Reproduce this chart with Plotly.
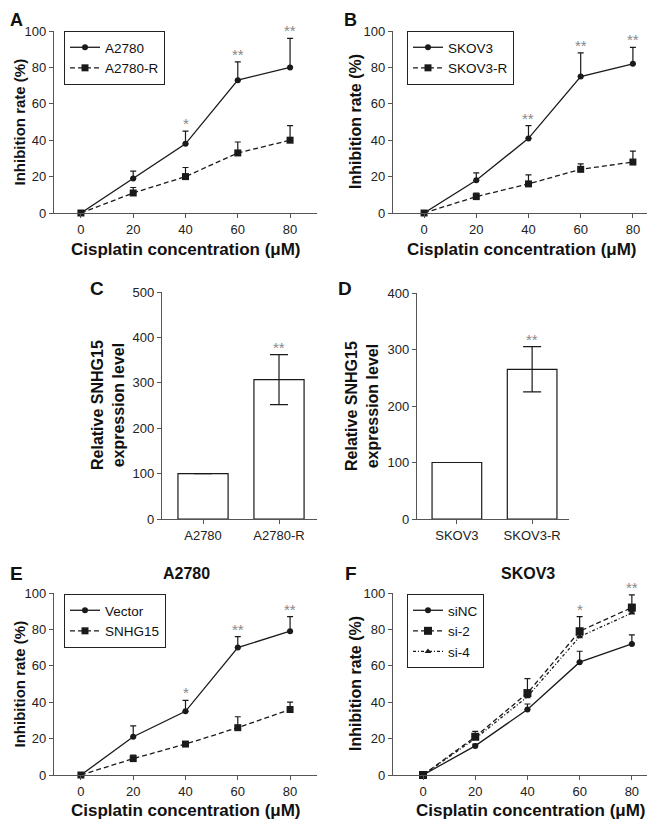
import plotly.graph_objects as go

# cisplatin doses (uM)
conc = [0, 20, 40, 60, 80]

# panel A
a2780 = [0, 19, 38, 73, 80]
a2780_err = [0, 4, 7, 10, 16]
a2780r = [0, 11, 20, 33, 40]
a2780r_err = [0, 3, 5, 6, 8]
a_stars = ["", "", "*", "**", "**"]

# panel B
skov3 = [0, 18, 41, 75, 82]
skov3_err = [0, 4, 7, 13, 9]
skov3r = [0, 9, 16, 24, 28]
skov3r_err = [0, 2, 5, 3, 6]
b_stars = ["", "", "**", "**", "**"]

# panels C / D
c_cells = ["A2780", "A2780-R"]
c_expr = [100, 307]
c_err = [0, 55]
c_stars = ["", "**"]
d_cells = ["SKOV3", "SKOV3-R"]
d_expr = [100, 265]
d_err = [0, 40]
d_stars = ["", "**"]

# panel E
vector = [0, 21, 35, 70, 79]
vector_err = [0, 6, 6, 6, 8]
snhg15 = [0, 9, 17, 26, 36]
snhg15_err = [0, 2, 1, 6, 4]
e_stars = ["", "", "*", "**", "**"]

# panel F
sinc = [0, 16, 36, 62, 72]
sinc_err = [0, 1, 3, 6, 5]
si2 = [0, 21, 45, 79, 92]
si2_err = [0, 3, 8, 8, 7]
si4 = [0, 20, 43, 76, 89]
si4_err = [0, 1, 1, 1, 1]
f_stars = ["", "", "", "*", "**"]

W, H = 660, 820
OFF = 8  # page body margin offsets the figure on screen
FONT = "Liberation Sans, Arial, sans-serif"
AXCOL = "#555555"


def px(x):
    return (x - OFF) / W


def py(y):
    return 1 - (y - OFF) / H


def line_trace(y, err, name, symbol, dash, size, xa, ya, legend):
    return go.Scatter(
        x=conc, y=y, name=name, mode="lines+markers",
        line=dict(color="#1a1a1a", width=1.3, dash=dash),
        marker=dict(symbol=symbol, size=size, color="#1a1a1a"),
        error_y=dict(type="data", symmetric=False, array=err,
                     arrayminus=[0] * len(err), color="#1a1a1a",
                     thickness=1.2, width=3),
        xaxis=xa, yaxis=ya, legend=legend, cliponaxis=False,
    )


def axis(xdom, ydom, rng, dtick, anchor, categorical=False):
    d = dict(
        domain=[px(xdom[0]), px(xdom[1])] if xdom else [py(ydom[1]), py(ydom[0])],
        range=rng, showline=True, linecolor=AXCOL, linewidth=1.3,
        ticks="outside", ticklen=4, tickcolor=AXCOL, tickwidth=1.2,
        showgrid=False, zeroline=False, anchor=anchor, automargin=False,
        tickfont=dict(size=13, color="#222222", family=FONT),
        fixedrange=True,
    )
    if categorical:
        d["type"] = "category"
    else:
        d["tick0"] = 0
        d["dtick"] = dtick
    return d


fig = go.Figure()

# A
fig.add_trace(line_trace(a2780, a2780_err, "A2780", "circle", "solid", 6, "x", "y", "legend"))
fig.add_trace(line_trace(a2780r, a2780r_err, "A2780-R", "square", "5px,3px", 7, "x", "y", "legend"))
# B
fig.add_trace(line_trace(skov3, skov3_err, "SKOV3", "circle", "solid", 6, "x2", "y2", "legend2"))
fig.add_trace(line_trace(skov3r, skov3r_err, "SKOV3-R", "square", "5px,3px", 7, "x2", "y2", "legend2"))
# E
fig.add_trace(line_trace(vector, vector_err, "Vector", "circle", "solid", 6, "x5", "y5", "legend3"))
fig.add_trace(line_trace(snhg15, snhg15_err, "SNHG15", "square", "5px,3px", 7, "x5", "y5", "legend3"))
# F
fig.add_trace(line_trace(sinc, sinc_err, "siNC", "circle", "solid", 6, "x6", "y6", "legend4"))
fig.add_trace(line_trace(si2, si2_err, "si-2", "square", "5px,3px", 8, "x6", "y6", "legend4"))
fig.add_trace(line_trace(si4, si4_err, "si-4", "triangle-up", "3px,2px,1px,2px", 6, "x6", "y6", "legend4"))

# C / D bars
for cells, vals, errs, xa, ya in [(c_cells, c_expr, c_err, "x3", "y3"),
                                  (d_cells, d_expr, d_err, "x4", "y4")]:
    fig.add_trace(go.Bar(
        x=cells, y=vals, width=0.66, showlegend=False,
        marker=dict(color="white", line=dict(color="#1a1a1a", width=1.2)),
        error_y=dict(type="data", array=[e if e else None for e in errs],
                     color="#1a1a1a", thickness=1.2, width=9),
        xaxis=xa, yaxis=ya,
    ))

annotations = []


def note(text, x, y, size, bold=True, angle=0, color="#111111",
         xanchor="center", yanchor="middle"):
    annotations.append(dict(
        text=f"<b>{text}</b>" if bold else text, x=px(x), y=py(y),
        xref="paper", yref="paper", showarrow=False, textangle=angle,
        xanchor=xanchor, yanchor=yanchor,
        font=dict(size=size, family=FONT, color=color),
    ))


def stars(labels, xs, series, xref, yref):
    for i, s in enumerate(labels):
        if not s:
            continue
        top = max(v[i] + e[i] for v, e in series)
        annotations.append(dict(
            text=s, x=xs[i], y=top, xref=xref, yref=yref, showarrow=False,
            xanchor="center", yanchor="bottom", yshift=-3,
            font=dict(size=15, family=FONT, color="#888888"),
        ))


stars(a_stars, conc, [(a2780, a2780_err), (a2780r, a2780r_err)], "x", "y")
stars(b_stars, conc, [(skov3, skov3_err), (skov3r, skov3r_err)], "x2", "y2")
stars(c_stars, c_cells, [(c_expr, c_err)], "x3", "y3")
stars(d_stars, d_cells, [(d_expr, d_err)], "x4", "y4")
stars(e_stars, conc, [(vector, vector_err), (snhg15, snhg15_err)], "x5", "y5")
stars(f_stars, conc, [(sinc, sinc_err), (si2, si2_err), (si4, si4_err)], "x6", "y6")

# panel letters and titles (kept inside the visible page area)
note("A", 8, 8, 18, xanchor="left", yanchor="top")
note("B", 342, 8, 18, xanchor="left", yanchor="top")
note("C", 97, 288, 19)
note("D", 345, 288, 19)
note("E", 8, 573, 19, xanchor="left")
note("F", 351, 573, 19)
note("A2780", 186, 573, 16)
note("SKOV3", 528, 573, 16)

# axis titles
xt = "Cisplatin concentration (μM)"
yt = "Inhibition rate (%)"
note(xt, 186, 249, 17)
note(xt, 522, 249, 17)
note(xt, 186, 810, 17)
note(xt, 531, 810, 17)
note(yt, 8, 122, 15, angle=-90, xanchor="left")
note(yt, 355, 122, 16, angle=-90)
note(yt, 8, 684, 15, angle=-90, xanchor="left")
note(yt, 355, 684, 16, angle=-90)
note("Relative SNHG15<br>expression level", 108, 405, 16, angle=-90)
note("Relative SNHG15<br>expression level", 362, 406, 16, angle=-90)

legend_style = dict(
    xanchor="left", yanchor="top", bgcolor="white",
    bordercolor="#222222", borderwidth=1,
    font=dict(size=13.5, family=FONT, color="#111111"),
    itemwidth=30, tracegroupgap=0,
)

fig.update_layout(
    width=W, height=H,
    margin=dict(l=0, r=0, t=0, b=0, autoexpand=False),
    paper_bgcolor="white", plot_bgcolor="white",
    font=dict(family=FONT),
    showlegend=True,
    annotations=annotations,
    legend=dict(x=px(64), y=py(31), **legend_style),
    legend2=dict(x=px(407), y=py(31), **legend_style),
    legend3=dict(x=px(64), y=py(594), **legend_style),
    legend4=dict(x=px(407), y=py(594), **legend_style),
    xaxis=axis((54, 317), None, [-10.3, 90.3], 20, "y"),
    yaxis=axis(None, (31, 213), [0, 100], 20, "x"),
    xaxis2=axis((393, 647), None, [-11.9, 85.4], 20, "y2"),
    yaxis2=axis(None, (31, 213), [0, 100], 20, "x2"),
    xaxis3=axis((162, 317), None, [-0.54, 1.5], None, "y3", categorical=True),
    yaxis3=axis(None, (292, 519), [0, 500], 100, "x3"),
    xaxis4=axis((417, 569), None, [-0.53, 1.49], None, "y4", categorical=True),
    yaxis4=axis(None, (293, 519), [0, 400], 100, "x4"),
    xaxis5=axis((54, 317), None, [-10.3, 90.3], 20, "y5"),
    yaxis5=axis(None, (593, 775), [0, 100], 20, "x5"),
    xaxis6=axis((393, 647), None, [-11.5, 85.8], 20, "y6"),
    yaxis6=axis(None, (593, 775), [0, 100], 20, "x6"),
)

fig.write_html("out.html")
